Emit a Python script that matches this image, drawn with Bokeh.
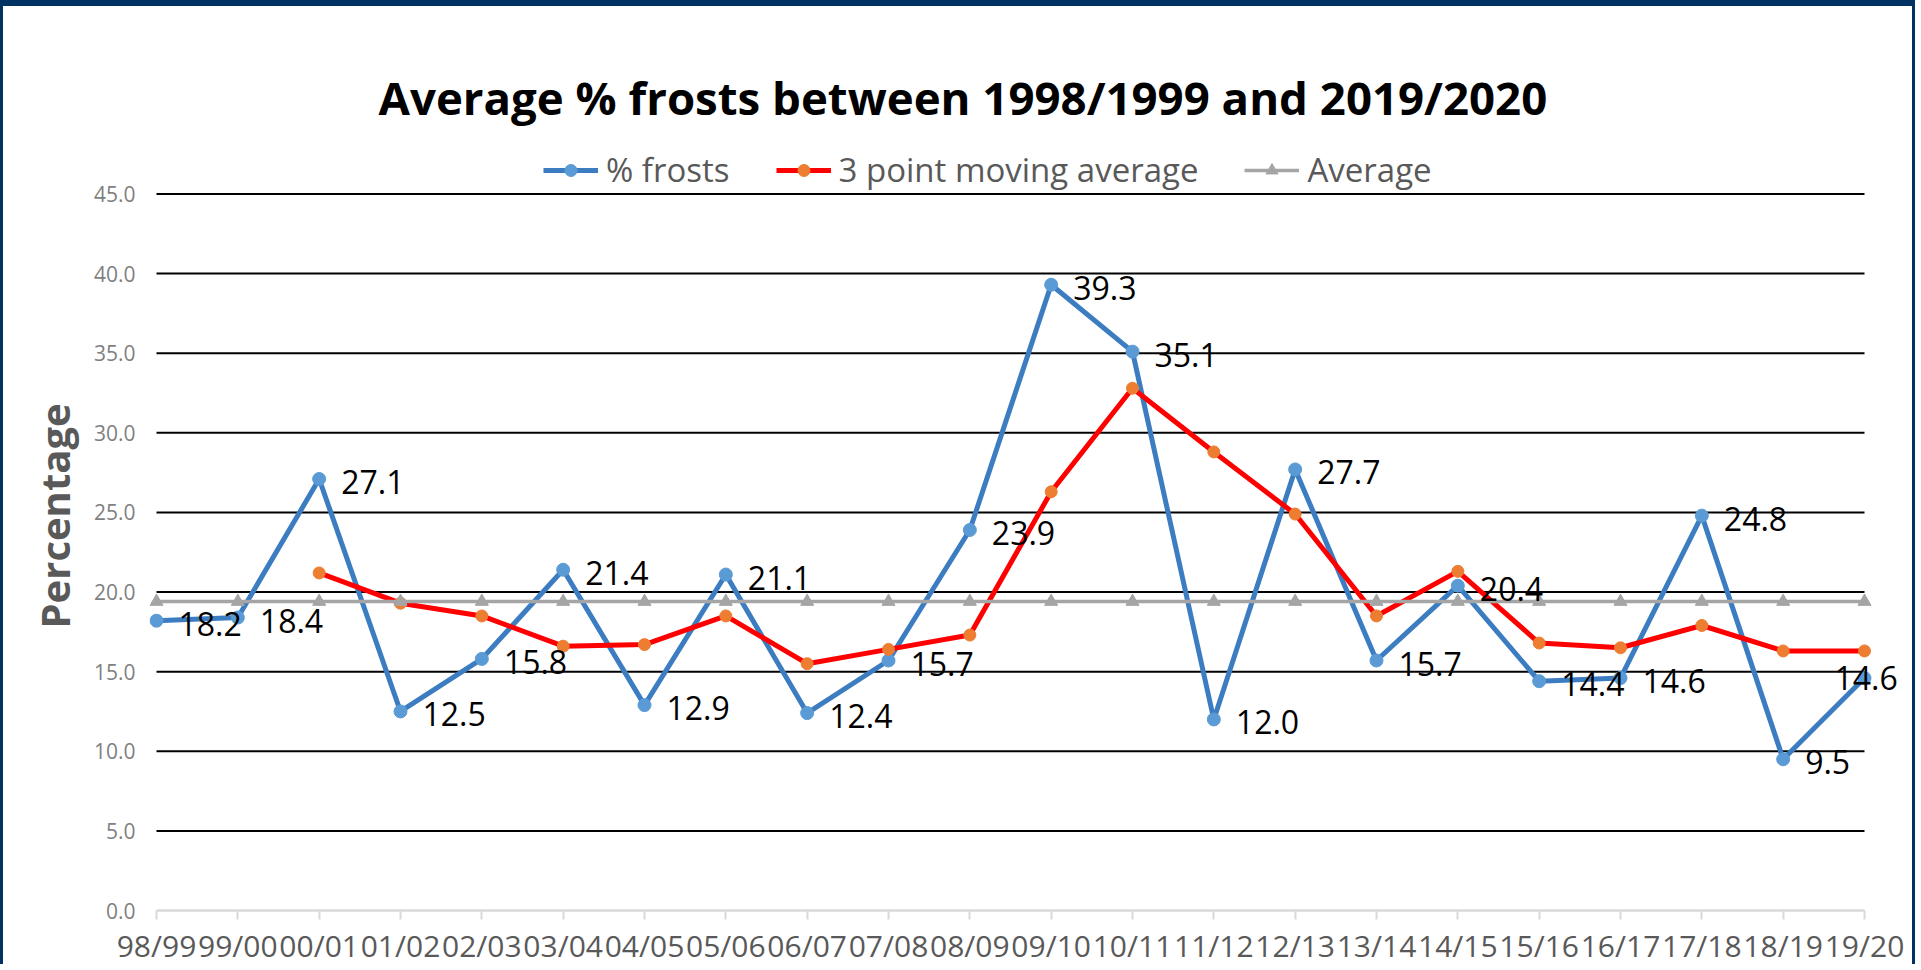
from bokeh.plotting import figure
from bokeh.models import (FixedTicker, NumeralTickFormatter, Legend, LegendItem,
                          Title, ColumnDataSource, Range1d)
from bokeh.embed import file_html
from bokeh.resources import INLINE
from bokeh.core.properties import value

NAN = float("nan")

CATEGORIES = ["98/99", "99/00", "00/01", "01/02", "02/03", "03/04", "04/05",
              "05/06", "06/07", "07/08", "08/09", "09/10", "10/11", "11/12",
              "12/13", "13/14", "14/15", "15/16", "16/17", "17/18", "18/19",
              "19/20"]
FROSTS = [18.2, 18.4, 27.1, 12.5, 15.8, 21.4, 12.9, 21.1, 12.4, 15.7, 23.9,
          39.3, 35.1, 12.0, 27.7, 15.7, 20.4, 14.4, 14.6, 24.8, 9.5, 14.6]
MOVING_AVG = [NAN, NAN, 21.2, 19.3, 18.5, 16.6, 16.7, 18.5, 15.5, 16.4, 17.3,
              26.3, 32.8, 28.8, 24.9, 18.5, 21.3, 16.8, 16.5, 17.9, 16.3, 16.3]
AVERAGE = [19.4, 19.4, 19.4, 19.4, 19.4, 19.4, 19.4, 19.4, 19.4, 19.4, 19.4,
           19.4, 19.4, 19.4, 19.4, 19.4, 19.4, 19.4, 19.4, 19.4, 19.4, 19.4]
Y_TICKS = [0, 5, 10, 15, 20, 25, 30, 35, 40, 45]
TITLE = "Average % frosts between 1998/1999 and 2019/2020"
Y_LABEL = "Percentage"
SERIES_NAMES = ["% frosts", "3 point moving average", "Average"]

n = len(CATEGORIES)
xs = list(range(n))

# ---- layout (pixels) ----
W, H = 1915, 964
MB_LEFT, MB_RIGHT, MB_TOP, MB_BOTTOM = 146, 13, 140, 60
frame_w = W - MB_LEFT - MB_RIGHT
frame_h = H - MB_TOP - MB_BOTTOM
FIRST_CAT_PX, LAST_CAT_PX = 7, 1715      # from frame left
TOP_TICK_PX = 716.5                       # height of the top tick above frame bottom
unit = (LAST_CAT_PX - FIRST_CAT_PX) / (n - 1)
x_start = -FIRST_CAT_PX / unit
x_end = x_start + frame_w / unit
y_end = Y_TICKS[-1] * frame_h / TOP_TICK_PX

p = figure(width=W, height=H, output_backend="svg", toolbar_location=None,
           x_range=Range1d(x_start, x_end), y_range=Range1d(0, y_end),
           min_border_left=MB_LEFT, min_border_right=MB_RIGHT,
           min_border_top=MB_TOP, min_border_bottom=MB_BOTTOM,
           background_fill_color="white", border_fill_color="white",
           outline_line_color=None,
           styles={"border-style": "solid", "border-color": "#003263",
                   "border-width": "6px 3px 0px 3px"})

# title
p.title.text = TITLE
p.title.text_font = "Open Sans"
p.title.text_font_style = "bold"
p.title.text_font_size = "45.6px"
p.title.text_color = "black"
p.title.align = "left"
p.title.offset = 229
p.title.standoff = 37

# axes
p.xaxis.ticker = FixedTicker(ticks=xs)
p.xaxis.major_label_overrides = {i: c for i, c in enumerate(CATEGORIES)}
p.xaxis.bounds = (0, n - 1)
p.xaxis.axis_line_color = "#D9D9D9"
p.xaxis.axis_line_width = 2.5
p.xaxis.major_tick_line_color = "#D9D9D9"
p.xaxis.major_tick_line_width = 2
p.xaxis.major_tick_out = 9
p.xaxis.major_tick_in = 0
p.xaxis.minor_tick_line_color = None
p.xaxis.major_label_text_font = "Open Sans"
p.xaxis.major_label_text_font_size = "30px"
p.xaxis.major_label_text_color = "#595959"
p.xaxis.major_label_standoff = 5

p.yaxis.ticker = FixedTicker(ticks=Y_TICKS)
p.yaxis.formatter = NumeralTickFormatter(format="0.0")
p.yaxis.axis_line_color = None
p.yaxis.major_tick_line_color = None
p.yaxis.major_tick_out = 0
p.yaxis.major_tick_in = 0
p.yaxis.minor_tick_line_color = None
p.yaxis.major_label_text_font = "Open Sans"
p.yaxis.major_label_text_font_size = "21px"
p.yaxis.major_label_text_color = "#7F7F7F"
p.yaxis.major_label_standoff = 14

p.xgrid.visible = False
p.ygrid.visible = False

# horizontal gridlines from the first to the last category
grid_y = Y_TICKS[1:]
p.segment(x0=[xs[0]] * len(grid_y), x1=[xs[-1]] * len(grid_y),
          y0=grid_y, y1=grid_y, line_color="black", line_width=2,
          level="underlay")

# series
r1 = p.line(xs, FROSTS, line_color="#3C7DC2", line_width=5)
s1 = p.scatter(xs, FROSTS, marker="circle", size=13,
               fill_color="#5B9BD5", line_color="#5B9BD5")
r2 = p.line(xs, MOVING_AVG, line_color="#FF0000", line_width=5)
s2 = p.scatter(xs, MOVING_AVG, marker="circle", size=12,
               fill_color="#ED7D31", line_color="#ED7D31")
r3 = p.line(xs, AVERAGE, line_color="#A5A5A5", line_width=3.5)
s3 = p.scatter(xs, AVERAGE, marker="triangle", size=13,
               fill_color="#A5A5A5", line_color="#A5A5A5")

# data labels
labels = [f"{v:.1f}" for v in FROSTS]
x_off = [22] * (n - 1) + [-30]
y_off = [3] * (n - 1) + [0]
src = ColumnDataSource(dict(x=xs, y=FROSTS, t=labels, xo=x_off, yo=y_off))
p.text(x="x", y="y", text="t", x_offset="xo", y_offset="yo", source=src,
       text_font=value("Open Sans"), text_font_size="32px",
       text_color="black", text_baseline="middle", text_align="left")

# legend, inside the (invisible) top strip of the frame above the 45 line
legend = Legend(items=[LegendItem(label=SERIES_NAMES[0], renderers=[r1, s1]),
                       LegendItem(label=SERIES_NAMES[1], renderers=[r2, s2]),
                       LegendItem(label=SERIES_NAMES[2], renderers=[r3, s3])],
                orientation="horizontal", location=(394, 718))
legend.label_text_font = "Open Sans"
legend.label_text_font_size = "33px"
legend.label_text_color = "#595959"
legend.glyph_width = 55
legend.glyph_height = 30
legend.label_standoff = 8
legend.spacing = 46
legend.padding = 0
legend.margin = 0
legend.border_line_color = None
legend.background_fill_alpha = 0
p.add_layout(legend, "center")

# y axis title
ytitle = Title(text=Y_LABEL, text_font="Open Sans", text_font_style="bold",
               text_font_size="40px", text_color="#595959", align="left",
               offset=282, standoff=17)
p.add_layout(ytitle, "left")

open("out.html", "w").write(file_html(p, INLINE, "Average % frosts"))
